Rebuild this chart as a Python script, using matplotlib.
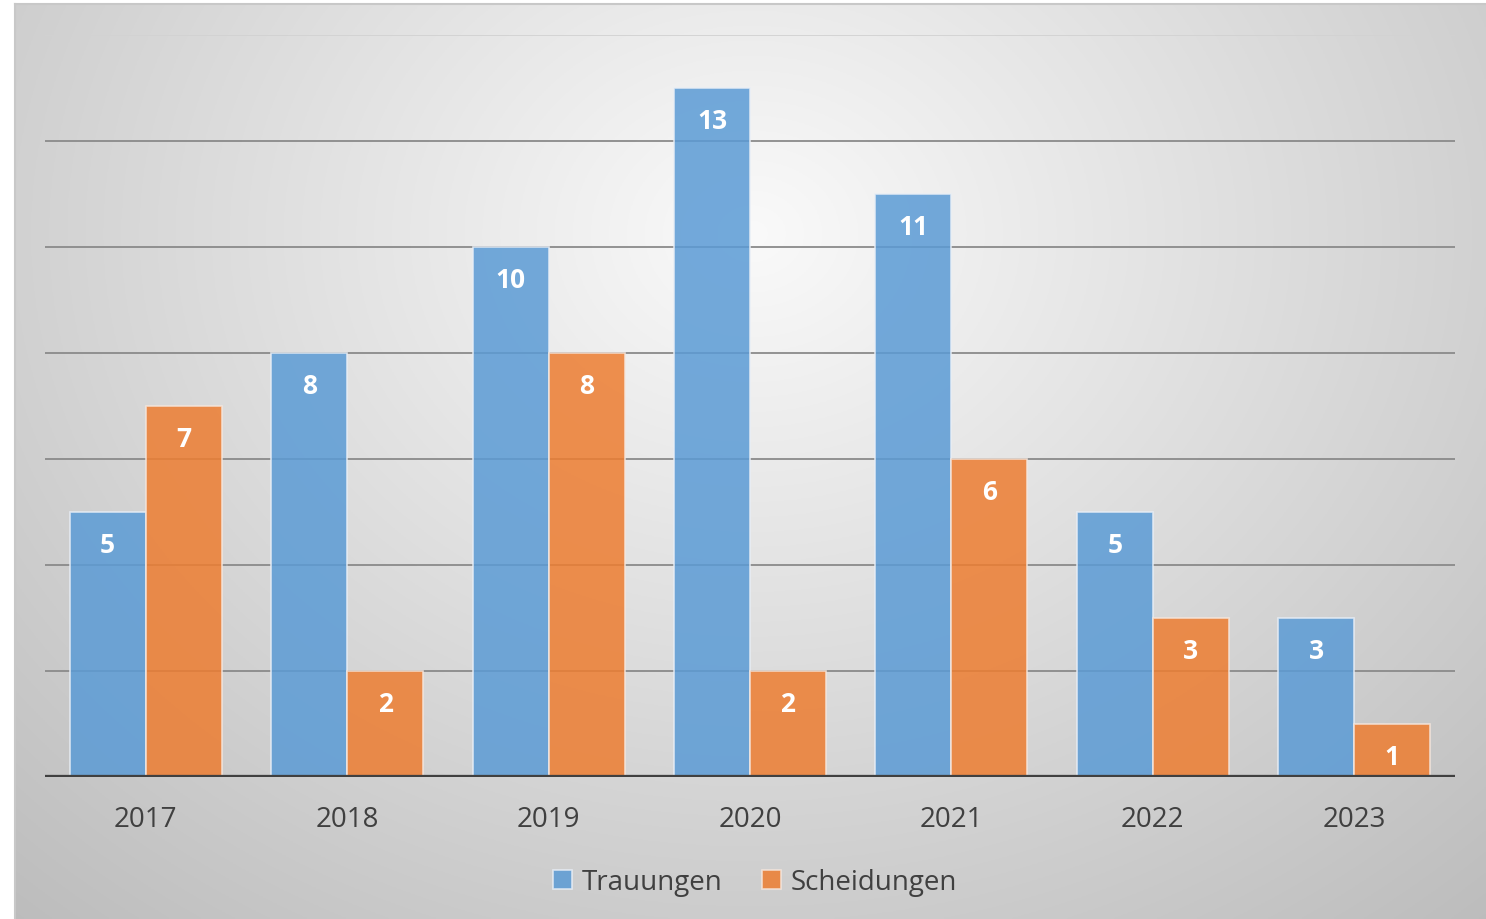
import numpy as np
import matplotlib
matplotlib.use("Agg")
import matplotlib.pyplot as plt

years = ["2017", "2018", "2019", "2020", "2021", "2022", "2023"]
trauungen = [5, 8, 10, 13, 11, 5, 3]
scheidungen = [7, 2, 8, 2, 6, 3, 1]
series_names = ["Trauungen", "Scheidungen"]

W, H = 1486, 920
fig = plt.figure(figsize=(W / 100, H / 100), dpi=100)
fig.patch.set_facecolor("white")

# background panel with radial gradient
bg = fig.add_axes([15 / W, 0, (1486 - 15) / W, (920 - 5) / H])
bg.set_axis_off()
ny, nx = 400, 640
yy, xx = np.mgrid[0:ny, 0:nx]
cx, cy = nx * 0.50, ny * 0.25
r = np.sqrt(((xx - cx) / nx) ** 2 + ((yy - cy) / ny * 0.75) ** 2)
r = r / r.max()
val = 0.98 - 0.24 * np.clip(r, 0, 1) ** 1.0
img = np.dstack([val, val, val])
bg.imshow(img, aspect="auto", extent=[0, 1, 0, 1], origin="upper")
bg.set_xlim(0, 1)
bg.set_ylim(0, 1)
bg.plot([0, 1], [1, 1], color="#c8c8c8", lw=1.5, transform=bg.transAxes, clip_on=False)
bg.plot([0, 0], [0, 1], color="#c8c8c8", lw=1.5, transform=bg.transAxes, clip_on=False)

left, right = 45 / W, 1455 / W
bottom, top = 1 - 778 / H, 1 - 36 / H
ax = fig.add_axes([left, bottom, right - left, top - bottom])
ax.patch.set_alpha(0)
for s in ax.spines.values():
    s.set_visible(False)

x = np.arange(len(years))
bw = 0.377
for yv in range(2, 14, 2):
    ax.axhline(yv, color="#8a8a8a", lw=1.3, zorder=1)
ax.axhline(14, color="#d2d2d2", lw=1.3, zorder=1)

b1 = ax.bar(x - bw / 2, trauungen, bw, color="#5B9BD5", alpha=0.85,
            edgecolor="#e8eef6", linewidth=1.2, zorder=2, label=series_names[0])
b2 = ax.bar(x + bw / 2, scheidungen, bw, color="#ED7D31", alpha=0.85,
            edgecolor="#f6e6dc", linewidth=1.2, zorder=2, label=series_names[1])
ax.axhline(0, color="#404040", lw=3.8, zorder=3)

for bars, vals in ((b1, trauungen), (b2, scheidungen)):
    for rect, v in zip(bars, vals):
        ax.text(rect.get_x() + rect.get_width() / 2, v - 0.62, str(v),
                ha="center", va="center", color="white", fontsize=19,
                fontweight="bold", family="Open Sans", zorder=4)

ax.set_xlim(-0.5, len(years) - 0.5)
ax.set_ylim(0, 14)
ax.set_yticks([])
ax.set_xticks(x)
ax.set_xticklabels(years, fontsize=20, color="#404040", family="Open Sans")
ax.tick_params(axis="x", length=0, pad=20)

leg = fig.legend(handles=[b1, b2], labels=series_names, loc="center",
                 bbox_to_anchor=(755 / W, 1 - 883 / H), ncol=2, frameon=False,
                 prop={"family": "Open Sans", "size": 20}, handlelength=0.7,
                 handleheight=0.7, handletextpad=0.35, columnspacing=1.4)
for t in leg.get_texts():
    t.set_color("#404040")

fig.savefig("out.png", dpi=100)
